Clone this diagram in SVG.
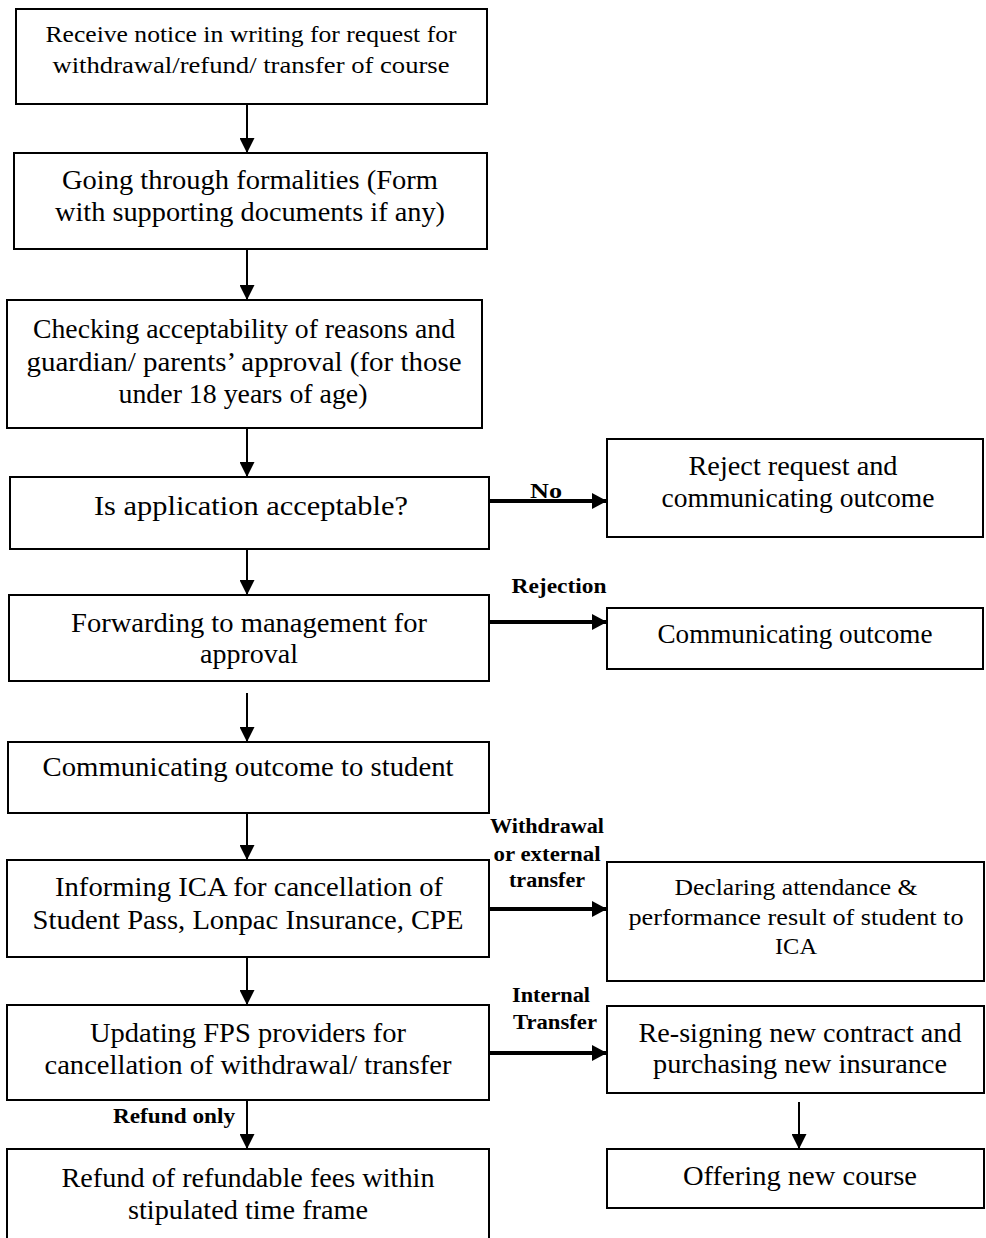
<svg xmlns="http://www.w3.org/2000/svg" width="986" height="1238" viewBox="0 0 986 1238">
<style>
.box{fill:#fff;stroke:#000;stroke-width:2}
.t{font-family:"Liberation Serif","Times New Roman",serif;fill:#000;text-anchor:middle;font-size:27px}
.s{font-size:23px}
.l{font-family:"Liberation Serif","Times New Roman",serif;font-weight:bold;font-size:20px;fill:#000;text-anchor:middle}
.v{stroke:#000;stroke-width:2;fill:none}
.h{stroke:#000;stroke-width:4;fill:none}
</style>
<defs>
<marker id="av" viewBox="0 0 15 15" refX="15" refY="7.5" markerWidth="15" markerHeight="15" markerUnits="userSpaceOnUse" orient="auto">
<path d="M0,0 L15,7.5 L0,15 Z" fill="#000"/>
</marker>
<marker id="ah" viewBox="0 0 15 16" refX="15" refY="8" markerWidth="15" markerHeight="16" markerUnits="userSpaceOnUse" orient="auto">
<path d="M0,0 L15,8 L0,16 Z" fill="#000"/>
</marker>
</defs>
<g id="connectors">
<line class="v" x1="247" y1="104" x2="247" y2="153" marker-end="url(#av)"/>
<line class="v" x1="247" y1="249" x2="247" y2="300" marker-end="url(#av)"/>
<line class="v" x1="247" y1="428" x2="247" y2="477" marker-end="url(#av)"/>
<line class="v" x1="247" y1="549" x2="247" y2="595" marker-end="url(#av)"/>
<line class="v" x1="247" y1="693" x2="247" y2="742" marker-end="url(#av)"/>
<line class="v" x1="247" y1="813" x2="247" y2="860" marker-end="url(#av)"/>
<line class="v" x1="247" y1="957" x2="247" y2="1005" marker-end="url(#av)"/>
<line class="v" x1="247" y1="1100" x2="247" y2="1149" marker-end="url(#av)"/>
<line class="v" x1="799" y1="1102" x2="799" y2="1149" marker-end="url(#av)"/>
<line class="h" x1="489" y1="501" x2="607" y2="501" marker-end="url(#ah)"/>
<line class="h" x1="489" y1="622" x2="607" y2="622" marker-end="url(#ah)"/>
<line class="h" x1="489" y1="909" x2="607" y2="909" marker-end="url(#ah)"/>
<line class="h" x1="489" y1="1053" x2="607" y2="1053" marker-end="url(#ah)"/>
<text class="l" x="546" y="498" textLength="32" lengthAdjust="spacingAndGlyphs">No</text>
<text class="l" x="559" y="593" textLength="95" lengthAdjust="spacingAndGlyphs">Rejection</text>
<text class="l" x="547" y="833" textLength="114" lengthAdjust="spacingAndGlyphs">Withdrawal</text>
<text class="l" x="547" y="861" textLength="107" lengthAdjust="spacingAndGlyphs">or external</text>
<text class="l" x="547" y="887" textLength="76" lengthAdjust="spacingAndGlyphs">transfer</text>
<text class="l" x="551" y="1002" textLength="78" lengthAdjust="spacingAndGlyphs">Internal</text>
<text class="l" x="555" y="1029" textLength="84" lengthAdjust="spacingAndGlyphs">Transfer</text>
<text class="l" x="174" y="1123" textLength="122" lengthAdjust="spacingAndGlyphs">Refund only</text>
</g>
<g id="n1">
<rect class="box" x="16" y="9" width="471" height="95"/>
<text class="t s" x="251" y="42" textLength="411" lengthAdjust="spacingAndGlyphs">Receive notice in writing for request for</text>
<text class="t s" x="251" y="73" textLength="397" lengthAdjust="spacingAndGlyphs">withdrawal/refund/ transfer of course</text>
</g>
<g id="n2">
<rect class="box" x="14" y="153" width="473" height="96"/>
<text class="t" x="250" y="189" font-size="26" textLength="376" lengthAdjust="spacingAndGlyphs">Going through formalities (Form</text>
<text class="t" x="250" y="221" font-size="26" textLength="390" lengthAdjust="spacingAndGlyphs">with supporting documents if any)</text>
</g>
<g id="n3">
<rect class="box" x="7" y="300" width="475" height="128"/>
<text class="t" x="244" y="338" textLength="422" lengthAdjust="spacingAndGlyphs">Checking acceptability of reasons and</text>
<text class="t" x="244" y="371" textLength="435" lengthAdjust="spacingAndGlyphs">guardian/ parents’ approval (for those</text>
<text class="t" x="243" y="403" textLength="249" lengthAdjust="spacingAndGlyphs">under 18 years of age)</text>
</g>
<g id="n4">
<rect class="box" x="10" y="477" width="479" height="72"/>
<text class="t" x="251" y="515" font-size="28" textLength="314" lengthAdjust="spacingAndGlyphs">Is application acceptable?</text>
</g>
<g id="n5">
<rect class="box" x="607" y="439" width="376" height="98"/>
<text class="t" x="793" y="475" textLength="209" lengthAdjust="spacingAndGlyphs">Reject request and</text>
<text class="t" x="798" y="507" textLength="273" lengthAdjust="spacingAndGlyphs">communicating outcome</text>
</g>
<g id="n6">
<rect class="box" x="9" y="595" width="480" height="86"/>
<text class="t" x="249" y="632" textLength="356" lengthAdjust="spacingAndGlyphs">Forwarding to management for</text>
<text class="t" x="249" y="663" textLength="98" lengthAdjust="spacingAndGlyphs">approval</text>
</g>
<g id="n7">
<rect class="box" x="607" y="608" width="376" height="61"/>
<text class="t" x="795" y="643" textLength="275" lengthAdjust="spacingAndGlyphs">Communicating outcome</text>
</g>
<g id="n8">
<rect class="box" x="8" y="742" width="481" height="71"/>
<text class="t" x="248" y="776" textLength="411" lengthAdjust="spacingAndGlyphs">Communicating outcome to student</text>
</g>
<g id="n9">
<rect class="box" x="7" y="860" width="482" height="97"/>
<text class="t" x="249" y="896" textLength="388" lengthAdjust="spacingAndGlyphs">Informing ICA for cancellation of</text>
<text class="t" x="248" y="929" textLength="431" lengthAdjust="spacingAndGlyphs">Student Pass, Lonpac Insurance, CPE</text>
</g>
<g id="n10">
<rect class="box" x="607" y="862" width="377" height="119"/>
<text class="t s" x="796" y="895" textLength="243" lengthAdjust="spacingAndGlyphs">Declaring attendance &amp;</text>
<text class="t s" x="796" y="925" textLength="335" lengthAdjust="spacingAndGlyphs">performance result of student to</text>
<text class="t s" x="796" y="954" textLength="42" lengthAdjust="spacingAndGlyphs">ICA</text>
</g>
<g id="n11">
<rect class="box" x="7" y="1005" width="482" height="95"/>
<text class="t" x="248" y="1042" textLength="316" lengthAdjust="spacingAndGlyphs">Updating FPS providers for</text>
<text class="t" x="248" y="1074" textLength="407" lengthAdjust="spacingAndGlyphs">cancellation of withdrawal/ transfer</text>
</g>
<g id="n12">
<rect class="box" x="607" y="1006" width="377" height="87"/>
<text class="t" x="800" y="1042" textLength="323" lengthAdjust="spacingAndGlyphs">Re-signing new contract and</text>
<text class="t" x="800" y="1073" textLength="294" lengthAdjust="spacingAndGlyphs">purchasing new insurance</text>
</g>
<g id="n13">
<rect class="box" x="7" y="1149" width="482" height="100"/>
<text class="t" x="248" y="1187" textLength="373" lengthAdjust="spacingAndGlyphs">Refund of refundable fees within</text>
<text class="t" x="248" y="1219" textLength="240" lengthAdjust="spacingAndGlyphs">stipulated time frame</text>
</g>
<g id="n14">
<rect class="box" x="607" y="1149" width="377" height="59"/>
<text class="t" x="800" y="1185" textLength="234" lengthAdjust="spacingAndGlyphs">Offering new course</text>
</g>
</svg>
